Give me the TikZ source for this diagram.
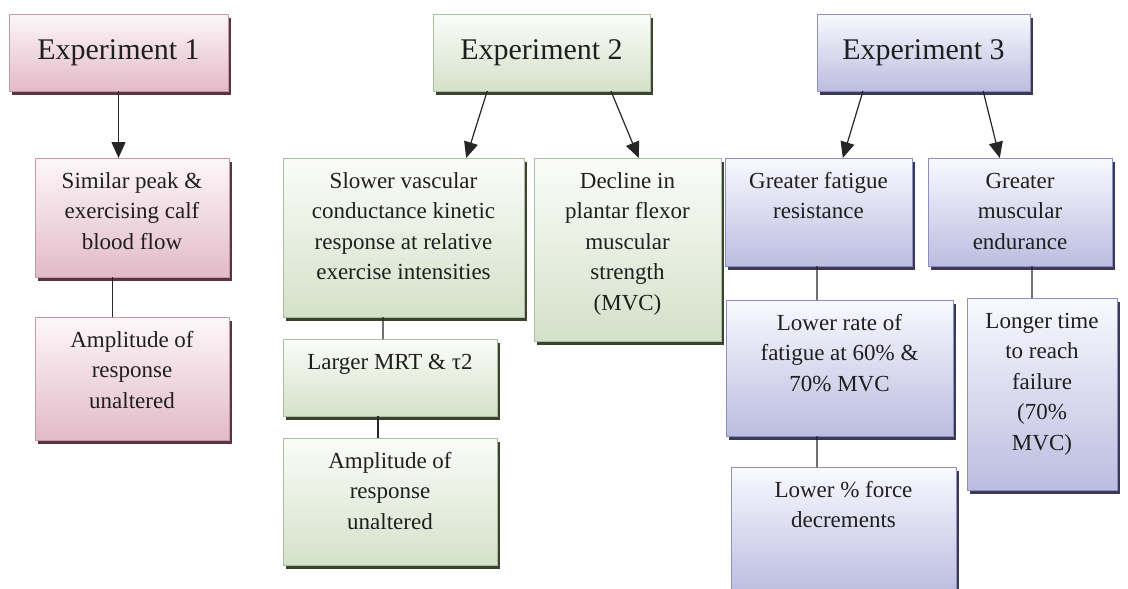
\documentclass[tikz,border=0pt]{standalone}
\usepackage{fontspec}
\setmainfont{Liberation Serif}
\usetikzlibrary{arrows.meta,shadows,calc}

\definecolor{pinktop}{RGB}{253,247,249}
\definecolor{pinkbot}{RGB}{226,186,199}
\definecolor{pinkline}{RGB}{196,152,168}
\definecolor{pinkshade}{RGB}{90,52,66}
\definecolor{greentop}{RGB}{251,252,249}
\definecolor{greenbot}{RGB}{212,225,201}
\definecolor{greenline}{RGB}{172,190,160}
\definecolor{greenshade}{RGB}{58,66,48}
\definecolor{bluetop}{RGB}{249,249,255}
\definecolor{bluebot}{RGB}{188,188,224}
\definecolor{blueline}{RGB}{142,142,192}
\definecolor{blueshade}{RGB}{58,58,88}

\newcommand{\headtxt}[3]{\parbox[c][#2][c]{#1}{\centering\fontsize{30}{36}\selectfont #3}}
\newcommand{\boxtxt}[3]{\parbox[c][#2][t]{#1}{\centering\rule{0pt}{30pt}#3}}

\tikzset{
  cellbox/.style={draw, line width=0.6pt, inner sep=0pt, outer sep=0pt,
    anchor=north west, text=black!88, font=\fontsize{23}{30.5}\selectfont},
  pinkbox/.style={cellbox, draw=pinkline, top color=pinktop, bottom color=pinkbot,
    drop shadow={shadow xshift=3pt, shadow yshift=-3.5pt, fill=pinkshade, opacity=1}},
  greenbox/.style={cellbox, draw=greenline, top color=greentop, bottom color=greenbot,
    drop shadow={shadow xshift=3pt, shadow yshift=-3.5pt, fill=greenshade, opacity=1}},
  bluebox/.style={cellbox, draw=blueline, top color=bluetop, bottom color=bluebot,
    drop shadow={shadow xshift=3pt, shadow yshift=-3.5pt, fill=blueshade, opacity=1}},
  arr/.style={-{Triangle[width=14pt,length=16pt]}, line width=1.2pt, black!85},
  link/.style={line width=1.2pt, black!85}
}

\begin{document}
\begin{tikzpicture}[x=1pt,y=-1pt]
  \useasboundingbox[fill=white] (0,0) rectangle (1128,589);

  % experiment headers
  \node[pinkbox] (e1) at (9,14) {\headtxt{219pt}{77pt}{Experiment 1}};
  \node[greenbox] (e2) at (433,14) {\headtxt{217pt}{77pt}{Experiment 2}};
  \node[bluebox] (e3) at (817,14) {\headtxt{213pt}{77pt}{Experiment 3}};

  % experiment 1
  \node[pinkbox] (a1) at (35,158) {\boxtxt{194pt}{119pt}{Similar peak \&\\ exercising calf\\ blood flow}};
  \node[pinkbox] (a2) at (35,317) {\boxtxt{194pt}{123pt}{Amplitude of\\ response\\ unaltered}};

  % experiment 2
  \node[greenbox] (b1) at (283,158) {\boxtxt{241pt}{159pt}{Slower vascular\\ conductance kinetic\\ response at relative\\ exercise intensities}};
  \node[greenbox] (b2) at (283,339) {\boxtxt{214pt}{77pt}{Larger MRT \& τ2}};
  \node[greenbox] (b3) at (283,438) {\boxtxt{214pt}{127pt}{Amplitude of\\ response\\ unaltered}};
  \node[greenbox] (b4) at (534,158) {\boxtxt{187pt}{183pt}{Decline in\\ plantar flexor\\ muscular\\ strength\\ (MVC)}};

  % experiment 3
  \node[bluebox] (c1) at (725,158) {\boxtxt{187pt}{108pt}{Greater fatigue\\ resistance}};
  \node[bluebox] (c2) at (726,300) {\boxtxt{227pt}{136pt}{Lower rate of\\ fatigue at 60\% \&\\ 70\% MVC}};
  \node[bluebox] (c3) at (731,467) {\boxtxt{225pt}{126pt}{Lower \% force\\ decrements}};
  \node[bluebox] (d1) at (928,158) {\boxtxt{184pt}{108pt}{Greater\\ muscular\\ endurance}};
  \node[bluebox] (d2) at (967,298) {\boxtxt{150pt}{192pt}{Longer time\\ to reach\\ failure\\ (70\%\\ MVC)}};

  % arrows from the headers
  \draw[arr] (e1.south) -- (e1.south |- a1.north);
  \draw[arr] ($(e2.south west)!0.25!(e2.south east)$) -- ($(b1.north west)!0.76!(b1.north east)$);
  \draw[arr] ($(e2.south west)!0.82!(e2.south east)$) -- ($(b4.north west)!0.56!(b4.north east)$);
  \draw[arr] ($(e3.south west)!0.216!(e3.south east)$) -- ($(c1.north west)!0.63!(c1.north east)$);
  \draw[arr] ($(e3.south west)!0.78!(e3.south east)$) -- ($(d1.north west)!0.39!(d1.north east)$);

  % plain links
  \begin{scope}[link]
    \draw ($(a1.south west)!0.4!(a1.south east)$) -- ($(a2.north west)!0.4!(a2.north east)$);
    \draw ($(b1.south west)!0.415!(b1.south east)$) -- ($(b2.north west)!0.467!(b2.north east)$);
    \draw ($(b2.south west)!0.444!(b2.south east)$) -- ($(b3.north west)!0.444!(b3.north east)$);
    \draw ($(c1.south west)!0.492!(c1.south east)$) -- ($(c2.north west)!0.401!(c2.north east)$);
    \draw ($(c2.south west)!0.401!(c2.south east)$) -- ($(c3.north west)!0.382!(c3.north east)$);
    \draw ($(d1.south west)!0.565!(d1.south east)$) -- ($(d2.north west)!0.433!(d2.north east)$);
  \end{scope}
\end{tikzpicture}
\end{document}
